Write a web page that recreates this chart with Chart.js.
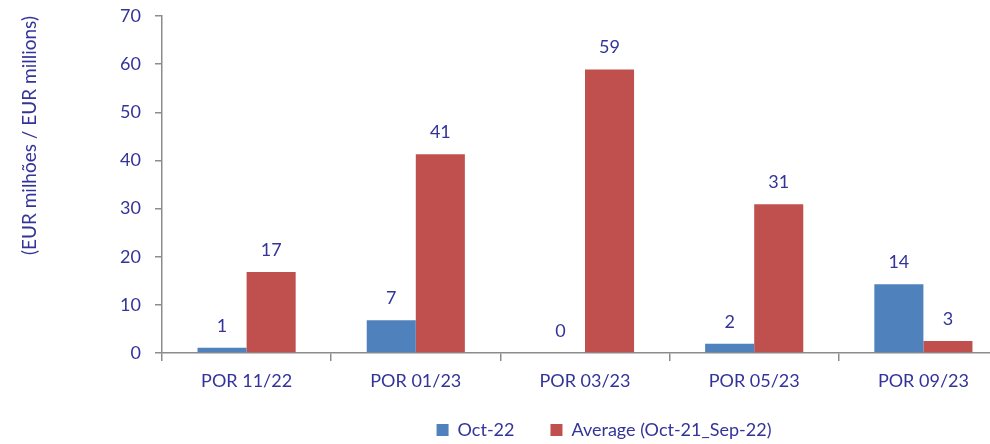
<!DOCTYPE html>
<html>
<head>
<meta charset="utf-8">
<script src="https://cdn.jsdelivr.net/npm/chart.js@4"></script>
<style>
  html, body { margin: 0; padding: 0; background: #fff; overflow: hidden; }
  #wrap { width: 990px; height: 444px; overflow: hidden; }
</style>
</head>
<body>
<div id="wrap"><canvas id="porChart" width="1208" height="444"></canvas></div>
<script>
// values
const categories = ['POR 11/22', 'POR 01/23', 'POR 03/23', 'POR 05/23', 'POR 09/23'];
const oct22 = [1.1, 6.8, 0, 1.9, 14.3];
const average = [16.8, 41.3, 58.9, 30.9, 2.5];
const yTicks = [0, 10, 20, 30, 40, 50, 60, 70];

const textColor = '#333399';
const axisGray = '#8c8c8c';
const fontName = 'Lato';

// value labels above each bar
const valueLabels = {
    id: 'valueLabels',
    afterDatasetsDraw(chart) {
        const ctx = chart.ctx;
        ctx.save();
        ctx.font = '18px ' + fontName;
        ctx.fillStyle = textColor;
        ctx.textAlign = 'center';
        ctx.textBaseline = 'middle';
        chart.data.datasets.forEach((ds, i) => {
            chart.getDatasetMeta(i).data.forEach((bar, j) => {
                ctx.fillText(Math.round(ds.data[j]), bar.x, bar.y - 22);
            });
        });
        ctx.restore();
    }
};

// the original chart is cropped on the right, so centre the legend on the full width
// and pull it up (its wide item padding would otherwise push it off the bottom)
const legendShift = {
    id: 'legendShift',
    afterLayout(chart) {
        const lg = chart.legend;
        lg.left += 100;
        lg.right += 100;
        lg.top = chart.chartArea.bottom + 32;
        lg.bottom = chart.height;
    }
};

const ctx = document.getElementById('porChart').getContext('2d');
const porChart = new Chart(ctx, {
    type: 'bar',
    data: {
        labels: categories,
        datasets: [{
            label: 'Oct-22',
            data: oct22,
            backgroundColor: '#4f81bd',
            barPercentage: 1,
            categoryPercentage: 0.58
        }, {
            label: 'Average (Oct-21_Sep-22)',
            data: average,
            backgroundColor: '#c0504d',
            barPercentage: 1,
            categoryPercentage: 0.58
        }]
    },
    options: {
        responsive: false,
        animation: false,
        devicePixelRatio: 1,
        layout: { padding: { top: 16, right: 200, bottom: 0, left: 0 } },
        plugins: {
            tooltip: { enabled: false },
            legend: {
                position: 'bottom',
                maxHeight: 30,
                labels: {
                    color: textColor,
                    font: { family: fontName, size: 18 },
                    boxWidth: 12,
                    boxHeight: 12,
                    padding: 36
                }
            }
        },
        scales: {
            x: {
                grid: {
                    display: true,
                    drawOnChartArea: false,
                    color: axisGray,
                    lineWidth: 1.5,
                    tickLength: 8
                },
                border: { color: axisGray, width: 1.5 },
                ticks: {
                    color: textColor,
                    font: { family: fontName, size: 18 },
                    padding: 9
                },
                afterFit(scale) { scale.height = 61; }
            },
            y: {
                min: 0,
                max: 70,
                afterBuildTicks(scale) { scale.ticks = yTicks.map(v => ({ value: v })); },
                grid: {
                    display: true,
                    drawOnChartArea: false,
                    color: axisGray,
                    lineWidth: 1.5,
                    tickLength: 7
                },
                border: { color: axisGray, width: 1.5 },
                ticks: {
                    color: textColor,
                    font: { family: fontName, size: 18 },
                    padding: 14
                },
                title: {
                    display: true,
                    text: '(EUR milhões / EUR millions)',
                    color: textColor,
                    font: { family: fontName, size: 19 },
                    align: 'end',
                    padding: { top: 18, bottom: 0 }
                },
                afterFit(scale) {
                    scale.width = 162;
                    scale.paddingTop = 0;
                    scale.paddingBottom = 0;
                }
            }
        }
    },
    plugins: [valueLabels, legendShift]
});
</script>
</body>
</html>
